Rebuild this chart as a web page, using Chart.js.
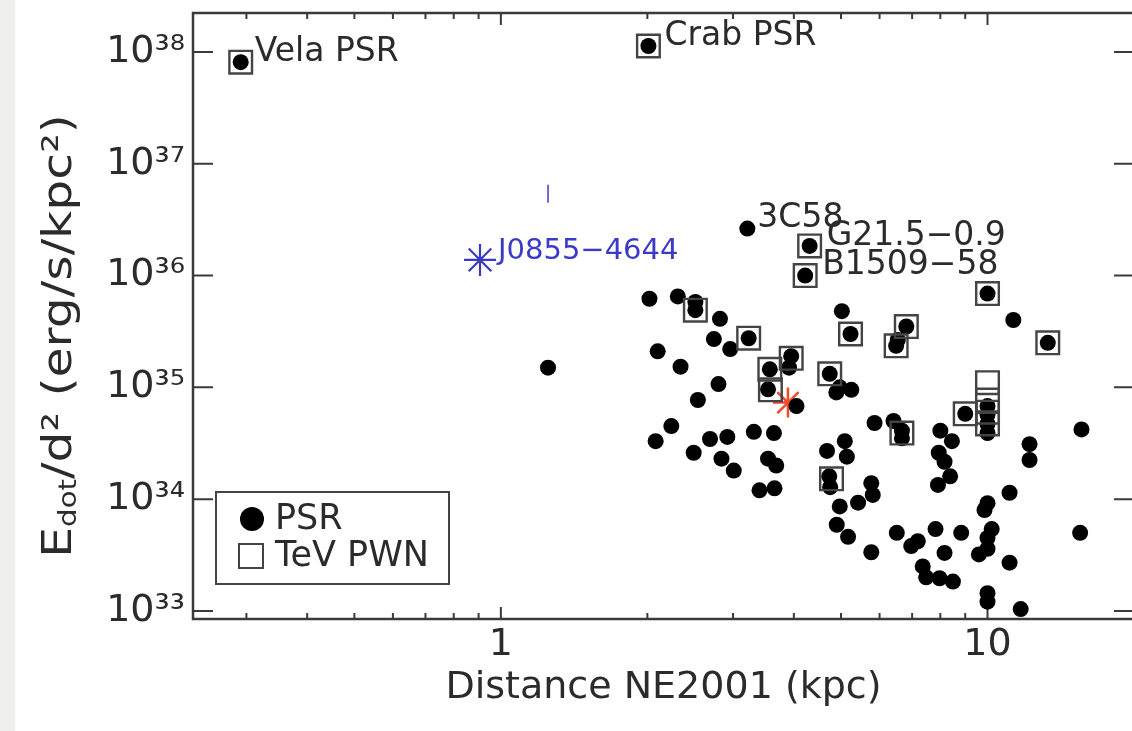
<!DOCTYPE html>
<html>
<head>
<meta charset="utf-8">
<script src="https://cdn.jsdelivr.net/npm/chart.js@4.4.1/dist/chart.umd.min.js"></script>
<style>
    html, body { margin: 0; padding: 0; overflow: hidden; }
    body { background: linear-gradient(to right, #efefeb 0, #efefeb 15px, #ffffff 15px); }
    #edotChart { display: block; }
</style>
</head>
<body>
<canvas id="edotChart" width="1140" height="731"></canvas>
<script>
// 坐标轴刻度
const xTickValues = [1, 10];
const xTickLabels = ['1', '10'];
const xMinorTicks = [0.3, 0.4, 0.5, 0.6, 0.7, 0.8, 0.9, 2, 3, 4, 5, 6, 7, 8, 9];
const yTickValues = [1e33, 1e34, 1e35, 1e36, 1e37, 1e38];
const yTickLabels = ['10³³', '10³⁴', '10³⁵', '10³⁶', '10³⁷', '10³⁸'];

// PSR: 距离 (kpc) 与 Edot/d^2 (前五个带名字)
const psrDistance = [
    0.292, 2.01, 3.21, 4.31, 4.22, 1.25, 2.02, 2.31, 2.51, 2.51,
    2.82, 2.74, 2.96, 3.23, 2.10, 2.34, 2.80, 2.54, 2.24, 2.08,
    2.49, 2.69, 2.92, 2.84, 3.01, 3.31, 3.64, 3.54, 3.68, 3.40,
    3.65, 3.57, 3.95, 3.91, 3.54, 4.05, 5.02, 5.23, 6.81, 6.54,
    6.49, 10.0, 4.74, 4.97, 5.25, 4.89, 10.0, 10.0, 10.0, 10.0,
    9.0, 11.3, 13.3, 15.6, 5.86, 6.41, 6.67, 6.67, 4.68, 5.09,
    5.14, 4.73, 4.75, 4.97, 5.42, 5.77, 5.81, 4.90, 5.17, 5.77,
    6.51, 6.97, 7.19, 7.82, 8.16, 8.83, 7.36, 7.48, 7.97, 8.49,
    8.0, 8.45, 7.94, 8.16, 8.38, 7.91, 10.0, 9.86, 10.2, 10.0,
    10.0, 9.6, 10.0, 10.0, 11.1, 11.1, 11.7, 12.2, 12.2, 15.5
];
const psrEdotFlux = [
    8.1e37, 1.13e38, 2.63e36, 1.84e36, 1.0e36, 1.5e35, 6.2e35, 6.5e35, 5.8e35, 4.9e35,
    4.1e35, 2.7e35, 2.2e35, 2.75e35, 2.1e35, 1.53e35, 1.07e35, 7.7e34, 4.5e34, 3.3e34,
    2.6e34, 3.45e34, 3.6e34, 2.3e34, 1.8e34, 4.0e34, 3.9e34, 2.3e34, 2.0e34, 1.2e34,
    1.25e34, 1.45e35, 1.9e35, 1.5e35, 9.6e34, 6.8e34, 4.8e35, 3.0e35, 3.5e35, 2.65e35,
    2.35e35, 6.9e35, 1.32e35, 1.0e35, 9.5e34, 9.0e34, 6.8e34, 5.7e34, 4.7e34, 3.9e34,
    5.8e34, 4.0e35, 2.5e35, 4.2e34, 4.8e34, 5.0e34, 4.1e34, 3.5e34, 2.7e34, 3.3e34,
    2.4e34, 1.6e34, 1.28e34, 8.6e33, 9.3e33, 1.39e34, 1.09e34, 5.9e33, 4.6e33, 3.35e33,
    5.0e33, 3.8e33, 4.2e33, 5.4e33, 3.3e33, 5.0e33, 2.5e33, 2.0e33, 1.96e33, 1.83e33,
    4.1e34, 3.3e34, 2.6e34, 2.16e34, 1.6e34, 1.34e34, 9.2e33, 8.0e33, 5.4e33, 4.5e33,
    3.6e33, 3.2e33, 1.44e33, 1.21e33, 1.14e34, 2.7e33, 1.04e33, 3.1e34, 2.24e34, 5.0e33
];
const psrNames = ['Vela PSR', 'Crab PSR', '3C58', 'G21.5−0.9', 'B1509−58'];

// TeV PWN
const pwnDistance = [
    0.292, 2.01, 4.31, 4.22, 2.51, 3.23, 3.57, 3.95, 3.58, 5.23, 6.81,
    6.49, 10.0, 4.74, 10.0, 10.0, 10.0, 10.0, 9.0, 13.3, 6.67, 4.78
];
const pwnEdotFlux = [
    8.1e37, 1.13e38, 1.84e36, 1.0e36, 4.9e35, 2.75e35, 1.45e35, 1.82e35, 9.5e34, 3.0e35, 3.5e35,
    2.35e35, 6.9e35, 1.32e35, 1.1e35, 7.7e34, 6.0e34, 4.7e34, 5.8e34, 2.5e35, 3.9e34, 1.52e34
];

// J0855-4644 及上限、红色标记
const j0855Name = 'J0855−4644';
const j0855Distance = [0.906];
const j0855EdotFlux = [1.38e36];
const limitDistance = [1.25];
const limitEdotFlux = [5.4e36];
const redDistance = [3.89];
const redEdotFlux = [7.3e34];

const FONT = "'DejaVu Sans', sans-serif";
const AXIS_COLOR = '#3a3a3a';
const TEXT_COLOR = '#2b2b2b';
const BLUE = '#3a3ac8';

function toPoints(xs, ys) {
    return xs.map((x, i) => ({ x: x, y: ys[i] }));
}

/**
 * 坐标框与向内的刻度线
 */
const frameTicksPlugin = {
    id: 'frameTicks',
    beforeDatasetsDraw(chart) {
        const { ctx, chartArea: a, scales } = chart;
        ctx.save();
        ctx.strokeStyle = AXIS_COLOR;
        ctx.lineWidth = 2.5;
        ctx.strokeRect(a.left, a.top, a.right - a.left, a.bottom - a.top);
        ctx.lineWidth = 2;
        const xTick = (v, len) => {
            const px = scales.x.getPixelForValue(v);
            ctx.beginPath();
            ctx.moveTo(px, a.bottom); ctx.lineTo(px, a.bottom - len);
            ctx.moveTo(px, a.top); ctx.lineTo(px, a.top + len);
            ctx.stroke();
        };
        xTickValues.forEach(v => xTick(v, 12));
        xMinorTicks.forEach(v => xTick(v, 6));
        yTickValues.forEach(v => {
            const py = scales.y.getPixelForValue(v);
            ctx.beginPath();
            ctx.moveTo(a.left, py); ctx.lineTo(a.left + 20, py);
            ctx.moveTo(a.right, py); ctx.lineTo(a.right - 20, py);
            ctx.stroke();
        });
        ctx.restore();
    }
};

/**
 * 源名称标注、Y轴标题、图例
 */
const annotatePlugin = {
    id: 'annotate',
    afterDraw(chart) {
        const { ctx, chartArea: a, scales } = chart;
        ctx.save();
        ctx.textBaseline = 'middle';
        ctx.textAlign = 'left';

        // 源名称
        const dx = [14, 16, 10, 17, 17];
        ctx.fillStyle = TEXT_COLOR;
        ctx.font = '33px ' + FONT;
        psrNames.forEach((name, i) => {
            const px = scales.x.getPixelForValue(psrDistance[i]);
            const py = scales.y.getPixelForValue(psrEdotFlux[i]);
            ctx.fillText(name, px + dx[i], py - 10);
        });
        ctx.fillStyle = BLUE;
        ctx.font = '29px ' + FONT;
        ctx.fillText(j0855Name,
            scales.x.getPixelForValue(j0855Distance[0]) + 18,
            scales.y.getPixelForValue(j0855EdotFlux[0]) - 8);

        // Y轴标题 (带下标), 沿文字方向略拉宽
        ctx.fillStyle = TEXT_COLOR;
        ctx.translate(61, (a.top + a.bottom) / 2 + 20);
        ctx.rotate(-Math.PI / 2);
        ctx.scale(1.22, 1);
        const big = '40px ' + FONT;
        const small = '24px ' + FONT;
        const parts = [
            { t: 'E', f: big, dy: 0 },
            { t: 'dot', f: small, dy: 9 },
            { t: '/d² (erg/s/kpc²)', f: big, dy: 0 }
        ];
        let total = 0;
        parts.forEach(p => { ctx.font = p.f; p.w = ctx.measureText(p.t).width; total += p.w; });
        let cx = -total / 2;
        parts.forEach(p => { ctx.font = p.f; ctx.fillText(p.t, cx, p.dy); cx += p.w; });
        ctx.restore();

        // 图例
        ctx.save();
        const bx = a.left + 23, by = a.bottom - 127, bw = 233, bh = 92;
        ctx.fillStyle = '#ffffff';
        ctx.fillRect(bx, by, bw, bh);
        ctx.strokeStyle = '#444';
        ctx.lineWidth = 2;
        ctx.strokeRect(bx, by, bw, bh);
        ctx.fillStyle = '#000';
        ctx.beginPath();
        ctx.arc(bx + 36, by + 27, 12, 0, Math.PI * 2);
        ctx.fill();
        ctx.strokeRect(bx + 23, by + 52, 24, 24);
        ctx.fillStyle = TEXT_COLOR;
        ctx.font = '35px ' + FONT;
        ctx.textBaseline = 'middle';
        ctx.fillText('PSR', bx + 59, by + 28);
        ctx.fillText('TeV PWN', bx + 59, by + 65);
        ctx.restore();
    }
};

const ctx = document.getElementById('edotChart');
new Chart(ctx, {
    type: 'scatter',
    data: {
        datasets: [
            {
                label: 'TeV PWN',
                data: toPoints(pwnDistance, pwnEdotFlux),
                pointStyle: 'rect',
                pointRadius: 16,
                borderColor: '#444',
                borderWidth: 2.4,
                backgroundColor: 'rgba(0,0,0,0)'
            },
            {
                label: 'PSR',
                data: toPoints(psrDistance, psrEdotFlux),
                pointStyle: 'circle',
                pointRadius: 8,
                borderWidth: 0,
                backgroundColor: '#000'
            },
            {
                label: j0855Name,
                data: toPoints(j0855Distance, j0855EdotFlux),
                pointStyle: 'star',
                pointRadius: 16,
                borderColor: BLUE,
                borderWidth: 2.2
            },
            {
                label: 'limit',
                data: toPoints(limitDistance, limitEdotFlux),
                pointStyle: 'line',
                rotation: 90,
                pointRadius: 9,
                borderColor: BLUE,
                borderWidth: 1.5
            },
            {
                label: 'red',
                data: toPoints(redDistance, redEdotFlux),
                pointStyle: 'star',
                pointRadius: 15,
                borderColor: '#ee4a2c',
                borderWidth: 2.5
            }
        ]
    },
    options: {
        responsive: false,
        maintainAspectRatio: false,
        devicePixelRatio: 1,
        animation: false,
        events: [],
        layout: { autoPadding: false, padding: { top: 13, right: 6, left: 0, bottom: 0 } },
        plugins: {
            legend: { display: false },
            tooltip: { enabled: false }
        },
        scales: {
            x: {
                type: 'logarithmic',
                min: 0.233,
                max: 20,
                grid: { display: false, drawTicks: false },
                border: { display: false },
                afterBuildTicks: s => { s.ticks = xTickValues.map(v => ({ value: v })); },
                afterFit: s => { s.height = 112; s.paddingLeft = 0; s.paddingRight = 0; },
                ticks: {
                    autoSkip: false,
                    maxRotation: 0,
                    padding: 3,
                    color: TEXT_COLOR,
                    font: { family: FONT, size: 38 },
                    callback: (v, i) => xTickLabels[i]
                },
                title: {
                    display: true,
                    text: 'Distance NE2001 (kpc)',
                    color: TEXT_COLOR,
                    font: { family: FONT, size: 38 },
                    padding: { top: 0, bottom: 20 }
                }
            },
            y: {
                type: 'logarithmic',
                min: 8.47e32,
                max: 2.23e38,
                grid: { display: false, drawTicks: false },
                border: { display: false },
                afterBuildTicks: s => { s.ticks = yTickValues.map(v => ({ value: v })); },
                afterFit: s => { s.width = 193; s.paddingTop = 0; s.paddingBottom = 0; },
                ticks: {
                    autoSkip: false,
                    padding: 8,
                    color: TEXT_COLOR,
                    font: { family: FONT, size: 38 },
                    callback: (v, i) => yTickLabels[i]
                }
            }
        }
    },
    plugins: [frameTicksPlugin, annotatePlugin]
});
</script>
</body>
</html>
